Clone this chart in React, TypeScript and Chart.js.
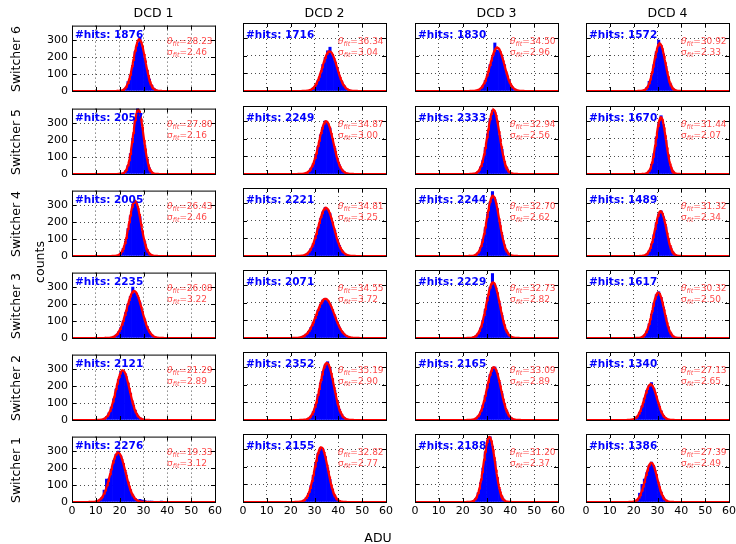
import React, { useEffect, useRef } from "react";
import { Chart, registerables } from "chart.js";

Chart.register(...registerables);
Chart.defaults.font.family = "'DejaVu Sans', sans-serif";

// ---------- labels & ticks ----------
const dcdLabels = ["DCD 1", "DCD 2", "DCD 3", "DCD 4"];
const switcherLabels = ["Switcher 6", "Switcher 5", "Switcher 4", "Switcher 3", "Switcher 2", "Switcher 1"];
const xTickValues = [0, 10, 20, 30, 40, 50, 60];
const yTickValues = [0, 100, 200, 300];
const xRange = [0, 60];
const yRange = [0, 385];
const BIN_WIDTH = 1;

// ---------- fit parameters per row (DCD 1..4) ----------
const hitsS6 = [1876, 1716, 1830, 1572];
const thetaS6 = [28.23, 36.34, 34.5, 30.92];
const sigmaS6 = [2.46, 3.04, 2.96, 2.33];
const hitsS5 = [2057, 2249, 2333, 1670];
const thetaS5 = [27.8, 34.87, 32.94, 31.44];
const sigmaS5 = [2.16, 3.0, 2.56, 2.07];
const hitsS4 = [2005, 2221, 2244, 1489];
const thetaS4 = [26.43, 34.81, 32.7, 31.32];
const sigmaS4 = [2.46, 3.25, 2.62, 2.34];
const hitsS3 = [2235, 2071, 2229, 1617];
const thetaS3 = [26.08, 34.55, 32.73, 30.32];
const sigmaS3 = [3.22, 3.72, 2.82, 2.5];
const hitsS2 = [2121, 2352, 2165, 1340];
const thetaS2 = [21.29, 35.19, 33.09, 27.13];
const sigmaS2 = [2.89, 2.9, 2.89, 2.65];
const hitsS1 = [2276, 2155, 2188, 1386];
const thetaS1 = [19.33, 32.82, 31.2, 27.39];
const sigmaS1 = [3.12, 2.77, 2.37, 2.49];

// ---------- histogram bins (first bin's lower edge, then counts per 1-ADU bin) ----------
const binStartS6 = [20, 27, 26, 23];
const countsS6D1 = [2, 6, 18, 55, 92, 152, 232, 283, 318, 262, 192, 122, 70, 33, 14, 5, 2];
const countsS6D2 = [3, 8, 19, 34, 60, 98, 150, 190, 228, 248, 205, 170, 128, 86, 52, 30, 13, 6, 2];
const countsS6D3 = [6, 14, 30, 60, 96, 150, 192, 272, 232, 226, 192, 150, 97, 60, 30, 15, 6, 2];
const countsS6D4 = [2, 6, 20, 55, 88, 150, 222, 288, 255, 210, 140, 80, 40, 14, 5, 1];

const binStartS5 = [20, 25, 24, 24];
const countsS5D1 = [1, 5, 20, 50, 120, 210, 320, 392, 355, 275, 170, 90, 36, 12, 3];
const countsS5D2 = [2, 6, 14, 33, 58, 105, 155, 222, 265, 300, 288, 260, 198, 146, 90, 52, 25, 12, 5, 2];
const countsS5D3 = [2, 5, 15, 40, 78, 150, 228, 315, 362, 350, 300, 218, 140, 72, 36, 14, 5, 2];
const countsS5D4 = [1, 5, 18, 55, 115, 210, 285, 330, 280, 192, 110, 45, 16, 4, 1];

const binStartS4 = [18, 24, 24, 23];
const countsS4D1 = [2, 6, 18, 45, 88, 162, 236, 305, 322, 292, 232, 146, 85, 38, 15, 5, 1];
const countsS4D2 = [2, 5, 10, 22, 42, 70, 115, 160, 212, 250, 275, 262, 240, 192, 145, 95, 60, 32, 16, 8, 3, 1];
const countsS4D3 = [3, 8, 21, 48, 95, 160, 238, 305, 365, 322, 268, 192, 118, 64, 30, 12, 4, 1];
const countsS4D4 = [1, 4, 11, 30, 68, 120, 188, 238, 256, 222, 165, 100, 52, 22, 8, 2];

const binStartS3 = [15, 23, 24, 22];
const countsS3D1 = [1, 3, 8, 18, 36, 62, 100, 150, 200, 246, 300, 268, 250, 208, 158, 108, 68, 38, 20, 9, 4, 1];
const countsS3D2 = [3, 6, 12, 22, 38, 60, 90, 122, 158, 190, 215, 225, 212, 193, 160, 126, 92, 62, 38, 22, 12, 6, 3, 1];
const countsS3D3 = [4, 12, 27, 57, 100, 162, 230, 288, 365, 300, 255, 195, 128, 75, 38, 18, 7, 3];
const countsS3D4 = [2, 6, 17, 40, 80, 135, 198, 245, 262, 230, 175, 115, 64, 30, 12, 4, 1];

const binStartS2 = [12, 26, 24, 19];
const countsS2D1 = [3, 8, 20, 42, 76, 124, 182, 240, 285, 290, 268, 218, 158, 100, 58, 29, 13, 5, 2];
const countsS2D2 = [4, 10, 22, 47, 87, 145, 210, 275, 312, 330, 292, 235, 168, 107, 60, 30, 14, 5, 2];
const countsS2D3 = [4, 9, 22, 46, 84, 138, 199, 257, 292, 300, 265, 212, 149, 93, 52, 25, 11, 4, 1];
const countsS2D4 = [3, 9, 21, 44, 79, 124, 167, 196, 212, 177, 136, 90, 52, 26, 11, 4, 1];

const binStartS1 = [10, 24, 23, 19];
const countsS1D1 = [5, 13, 26, 70, 135, 137, 192, 244, 281, 300, 271, 228, 173, 118, 73, 41, 21, 12, 15, 12, 8, 6, 5, 5, 4, 4, 3, 5, 4, 3, 2, 2, 1, 1, 1];
const countsS1D2 = [3, 10, 23, 49, 92, 151, 218, 276, 308, 300, 258, 194, 128, 74, 38, 17, 7, 2];
const countsS1D3 = [2, 7, 20, 52, 109, 192, 284, 352, 370, 316, 230, 140, 71, 30, 11, 3, 1];
const countsS1D4 = [1, 5, 13, 50, 100, 130, 166, 208, 226, 200, 155, 102, 57, 27, 11, 4, 1];

const rows = [
  { hits: hitsS6, theta: thetaS6, sigma: sigmaS6, start: binStartS6, counts: [countsS6D1, countsS6D2, countsS6D3, countsS6D4] },
  { hits: hitsS5, theta: thetaS5, sigma: sigmaS5, start: binStartS5, counts: [countsS5D1, countsS5D2, countsS5D3, countsS5D4] },
  { hits: hitsS4, theta: thetaS4, sigma: sigmaS4, start: binStartS4, counts: [countsS4D1, countsS4D2, countsS4D3, countsS4D4] },
  { hits: hitsS3, theta: thetaS3, sigma: sigmaS3, start: binStartS3, counts: [countsS3D1, countsS3D2, countsS3D3, countsS3D4] },
  { hits: hitsS2, theta: thetaS2, sigma: sigmaS2, start: binStartS2, counts: [countsS2D1, countsS2D2, countsS2D3, countsS2D4] },
  { hits: hitsS1, theta: thetaS1, sigma: sigmaS1, start: binStartS1, counts: [countsS1D1, countsS1D2, countsS1D3, countsS1D4] },
];

// ---------- layout ----------
const PANEL_LEFT = [72, 243, 415, 586];
const PANEL_TOP = [23, 106, 188, 270, 352, 434];
const PW = 143;
const PH = 68;
const PAD_L = 40;
const PAD_T = 8;
const PAD_R = 10;
const PAD_B = 22;
const FONT = "'DejaVu Sans', sans-serif";

function fitCurve(hits: number, mu: number, sigma: number) {
  const amp = (hits * BIN_WIDTH) / (sigma * Math.sqrt(2 * Math.PI));
  const pts: { x: number; y: number }[] = [];
  for (let i = 0; i <= 240; i++) {
    const x = xRange[0] + (i * (xRange[1] - xRange[0])) / 240;
    pts.push({ x, y: amp * Math.exp(-((x - mu) * (x - mu)) / (2 * sigma * sigma)) });
  }
  return pts;
}

const framePlugin = {
  id: "frame",
  afterDraw(chart: any) {
    const { ctx, chartArea: a, scales } = chart;
    ctx.save();
    ctx.strokeStyle = "#000";
    ctx.lineWidth = 1;
    ctx.setLineDash([]);
    ctx.beginPath();
    xTickValues.forEach((v) => {
      if (v === xRange[0] || v === xRange[1]) return;
      const px = Math.round(scales.x.getPixelForValue(v)) + 0.5;
      ctx.moveTo(px, a.bottom);
      ctx.lineTo(px, a.bottom - 4);
      ctx.moveTo(px, a.top);
      ctx.lineTo(px, a.top + 4);
    });
    yTickValues.forEach((v) => {
      if (v === yRange[0]) return;
      const py = Math.round(scales.y.getPixelForValue(v)) + 0.5;
      ctx.moveTo(a.left, py);
      ctx.lineTo(a.left + 4, py);
      ctx.moveTo(a.right, py);
      ctx.lineTo(a.right - 4, py);
    });
    ctx.stroke();
    ctx.strokeRect(a.left + 0.5, a.top + 0.5, a.right - a.left, a.bottom - a.top);
    ctx.restore();
  },
};

function Panel({ r, c }: { r: number; c: number }) {
  const ref = useRef<HTMLCanvasElement | null>(null);
  const row = rows[r];
  useEffect(() => {
    if (!ref.current) return;
    const counts = row.counts[c];
    const start = row.start[c];
    const bars = counts.map((v, i) => ({ x: start + i * BIN_WIDTH + BIN_WIDTH / 2, y: v }));
    const fit = fitCurve(row.hits[c], row.theta[c], row.sigma[c]);
    const showX = r === rows.length - 1;
    const showY = c === 0;
    const chart = new Chart(ref.current, {
      type: "bar",
      data: {
        datasets: [
          {
            type: "line",
            data: fit,
            borderColor: "#ff0000",
            borderWidth: 2.2,
            pointRadius: 0,
            tension: 0,
            order: 0,
          } as any,
          {
            type: "bar",
            data: bars,
            backgroundColor: "#0000ff",
            borderWidth: 0,
            barPercentage: 1,
            categoryPercentage: 1,
            order: 1,
          } as any,
        ],
      },
      options: {
        responsive: false,
        animation: false,
        events: [],
        layout: { padding: { top: PAD_T, right: PAD_R, left: 0, bottom: 0 } },
        plugins: { legend: { display: false }, tooltip: { enabled: false } },
        scales: {
          x: {
            type: "linear",
            min: xRange[0],
            max: xRange[1],
            offset: false,
            grid: { offset: false, color: "rgba(0,0,0,0.7)", lineWidth: 1, drawTicks: false },
            border: { display: false, dash: [1, 3] },
            ticks: {
              display: showX,
              stepSize: 10,
              autoSkip: false,
              maxRotation: 0,
              color: "#000",
              padding: 3,
              font: { family: FONT, size: 11 },
              callback: (v: any) => (xTickValues.includes(Number(v)) ? String(v) : ""),
            },
            afterFit: (s: any) => {
              s.height = PAD_B;
            },
          },
          y: {
            type: "linear",
            min: yRange[0],
            max: yRange[1],
            grid: { color: "rgba(0,0,0,0.7)", lineWidth: 1, drawTicks: false },
            border: { display: false, dash: [1, 3] },
            ticks: {
              display: showY,
              stepSize: 100,
              includeBounds: false,
              color: "#000",
              padding: 4,
              font: { family: FONT, size: 11 },
              callback: (v: any) => (yTickValues.includes(Number(v)) ? String(v) : ""),
            },
            afterFit: (s: any) => {
              s.width = PAD_L;
            },
          },
        },
      } as any,
      plugins: [framePlugin],
    });
    return () => chart.destroy();
  }, [r, c]);

  const left = PANEL_LEFT[c];
  const top = PANEL_TOP[r];
  const w = PAD_L + PW + PAD_R;
  const h = PAD_T + PH + PAD_B;
  const sub: React.CSSProperties = { fontStyle: "italic", fontSize: 6.5, position: "relative", top: 2 };
  return (
    <>
      <canvas
        ref={ref}
        width={w}
        height={h}
        style={{ position: "absolute", left: left - PAD_L, top: top - PAD_T, width: w, height: h }}
      />
      <div
        style={{
          position: "absolute",
          left: left + 3,
          top: top + 5,
          fontSize: 10.5,
          lineHeight: "12px",
          fontWeight: "bold",
          color: "#0000ff",
          whiteSpace: "nowrap",
        }}
      >
        #hits: {row.hits[c]}
      </div>
      <div
        style={{
          position: "absolute",
          left: left + 95,
          top: top + 13,
          fontSize: 9,
          lineHeight: "10px",
          color: "rgba(255,0,0,0.72)",
          whiteSpace: "nowrap",
        }}
      >
        <div>
          <span style={{ fontStyle: "italic" }}>θ</span>
          <span style={sub}>fit</span>={row.theta[c].toFixed(2)}
        </div>
        <div>
          <span>σ</span>
          <span style={sub}>fit</span>={row.sigma[c].toFixed(2)}
        </div>
      </div>
    </>
  );
}

const centered = (x: number, y: number, rotate = false): React.CSSProperties => ({
  position: "absolute",
  left: x,
  top: y,
  transform: `translate(-50%, -50%)${rotate ? " rotate(-90deg)" : ""}`,
  whiteSpace: "nowrap",
  fontSize: 12.5,
  lineHeight: "14px",
  color: "#000",
});

export default function App() {
  return (
    <div
      style={{
        position: "fixed",
        left: 0,
        top: 0,
        width: 736,
        height: 544,
        background: "#fff",
        overflow: "hidden",
        fontFamily: FONT,
      }}
    >
      {rows.map((_, r) => dcdLabels.map((__, c) => <Panel key={`${r}-${c}`} r={r} c={c} />))}
      {dcdLabels.map((t, c) => (
        <div key={t} style={centered(PANEL_LEFT[c] + PW / 2 + 10, 13)}>
          {t}
        </div>
      ))}
      {switcherLabels.map((t, r) => (
        <div key={t} style={centered(16, PANEL_TOP[r] + PH / 2 + 2, true)}>
          {t}
        </div>
      ))}
      <div style={centered(40, 262, true)}>counts</div>
      <div style={centered(378, 538)}>ADU</div>
    </div>
  );
}
